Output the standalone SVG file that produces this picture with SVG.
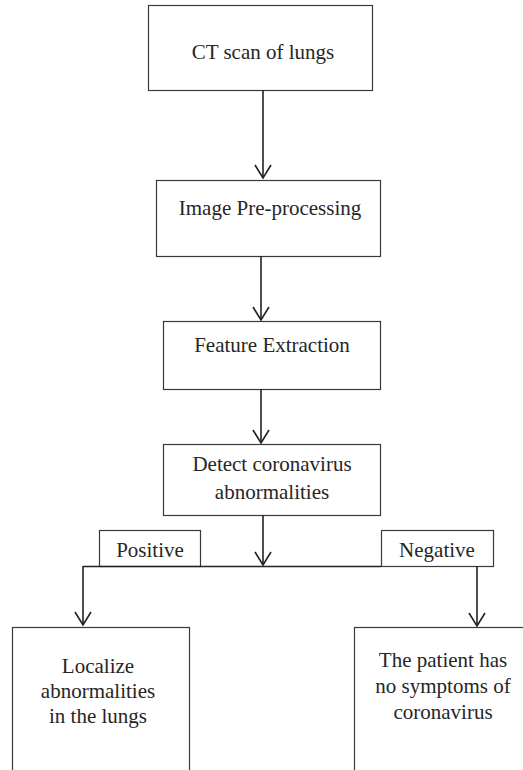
<svg xmlns="http://www.w3.org/2000/svg" width="523" height="770" viewBox="0 0 523 770">
  <style>
    .box { fill: #ffffff; stroke: #3a3a3a; stroke-width: 1.2; }
    .lbl { font-size: 21px; fill: #262626; text-anchor: middle; }
    .wire { fill: none; stroke: #222222; stroke-width: 1.6; }
  </style>
  <defs>
    <marker id="vhead" markerUnits="userSpaceOnUse" viewBox="-15 -15 30 30" markerWidth="30" markerHeight="30" refX="0" refY="0" orient="auto" overflow="visible">
      <path d="M-13,-8 L0,0 L-13,8" fill="none" stroke="#222222" stroke-width="1.6"/>
    </marker>
  </defs>

  <rect width="523" height="770" fill="#ffffff"/>

  <g id="nodes" font-family="Liberation Serif, serif">
    <g id="ct-scan">
      <rect class="box" x="148.5" y="5.5" width="224" height="85"/>
      <text class="lbl" x="263" y="59">CT scan of lungs</text>
    </g>

    <g id="preprocessing">
      <rect class="box" x="156.5" y="180.5" width="224" height="76"/>
      <text class="lbl" x="270" y="215">Image Pre-processing</text>
    </g>

    <g id="feature-extraction">
      <rect class="box" x="163.5" y="321.5" width="217" height="68"/>
      <text class="lbl" x="272" y="352">Feature Extraction</text>
    </g>

    <g id="detect">
      <rect class="box" x="163.5" y="444.5" width="217" height="71"/>
      <text class="lbl" x="272" y="471">Detect coronavirus</text>
      <text class="lbl" x="272" y="499">abnormalities</text>
    </g>

    <g id="positive">
      <rect class="box" x="99.5" y="530.5" width="101" height="36"/>
      <text class="lbl" x="150" y="557">Positive</text>
    </g>

    <g id="negative">
      <rect class="box" x="381.5" y="530.5" width="112" height="36"/>
      <text class="lbl" x="437" y="557">Negative</text>
    </g>

    <g id="localize">
      <rect class="box" x="12.5" y="627.5" width="177" height="160"/>
      <text class="lbl" x="98" y="673">Localize</text>
      <text class="lbl" x="98" y="698">abnormalities</text>
      <text class="lbl" x="98" y="723">in the lungs</text>
    </g>

    <g id="no-symptoms">
      <rect class="box" x="354.5" y="627.5" width="180" height="160"/>
      <text class="lbl" x="443" y="667">The patient has</text>
      <text class="lbl" x="443" y="693">no symptoms of</text>
      <text class="lbl" x="443" y="719">coronavirus</text>
    </g>
  </g>

  <g id="connectors">
    <line class="wire" x1="263" y1="90" x2="263" y2="178" marker-end="url(#vhead)"/>
    <line class="wire" x1="261" y1="256" x2="261" y2="320" marker-end="url(#vhead)"/>
    <line class="wire" x1="261" y1="389" x2="261" y2="443" marker-end="url(#vhead)"/>
    <line class="wire" x1="263" y1="515" x2="263" y2="565" marker-end="url(#vhead)"/>
    <line class="wire" x1="83" y1="566.5" x2="381" y2="566.5"/>
    <line class="wire" x1="83" y1="566" x2="83" y2="625" marker-end="url(#vhead)"/>
    <line class="wire" x1="477" y1="566" x2="477" y2="626" marker-end="url(#vhead)"/>
  </g>
</svg>
